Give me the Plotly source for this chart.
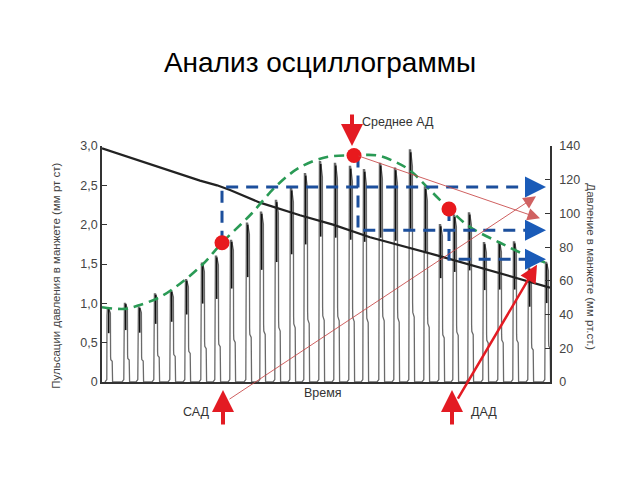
import plotly.graph_objects as go

# ---------------- data ----------------
pulse_x = [7, 24, 38, 54, 70, 85, 101, 115, 130, 146, 160, 175, 190, 204, 219,
           234, 249, 263, 279, 294, 309, 324, 339, 353, 368, 383, 398, 413, 428, 445]
pulse_peak = [0.94, 1.00, 0.95, 1.12, 1.16, 1.30, 1.51, 1.60, 1.80, 2.02, 2.16, 2.31,
              2.46, 2.65, 2.80, 2.78, 2.74, 2.70, 2.78, 2.72, 2.95, 2.48, 2.00, 2.12,
              2.15, 1.77, 1.78, 1.78, 1.45, 1.52]

cuff_x = [0, 45, 98, 115, 128, 158, 198, 231, 268, 335, 388, 448]
cuff_y = [2.97, 2.78, 2.56, 2.50, 2.44, 2.28, 2.12, 2.00, 1.84, 1.61, 1.42, 1.20]

env_x = [0, 23, 38, 58, 78, 101, 120, 148, 175, 198, 225, 252, 275, 293, 308, 328,
         348, 368, 398, 428, 443]
env_y = [0.95, 0.93, 0.98, 1.08, 1.25, 1.50, 1.77, 2.12, 2.50, 2.73, 2.86, 2.88,
         2.88, 2.80, 2.69, 2.44, 2.19, 1.97, 1.77, 1.59, 1.52]

dot_x = [120, 252, 347]          # САД, Среднее АД, ДАД
dot_y = [1.77, 2.88, 2.20]
level_y = [2.48, 1.93, 1.56]     # levels read on the cuff-pressure line
arrow_tip_x = 444

left_ticks = [0, 0.5, 1.0, 1.5, 2.0, 2.5, 3.0]
left_tick_text = ["0", "0,5", "1,0", "1,5", "2,0", "2,5", "3,0"]
right_ticks = [0, 20, 40, 60, 80, 100, 120, 140]

# ---------------- build pulses ----------------
px, py = [], []
for x, p in zip(pulse_x, pulse_peak):
    px += [x - 4, x - 2.2, x - 2, x - 1.6, x - 0.4, x + 1.4, x + 1.6, x + 1.8, x + 3.2, x + 3.4, x + 3.6, x + 5]
    py += [0, 0.03, 0.9 * p, p, p, 0.93 * p, 0.34 * p, 0.30 * p, 0.28 * p, 0.05, 0, 0]
bx, by = [], []
for x, p in zip(pulse_x, pulse_peak):
    bx += [x - 0.3, x - 0.3, None]
    by += [p * 0.99, p * 0.66, None]

fig = go.Figure()
fig.add_trace(go.Scatter(x=px, y=py, mode="lines", line=dict(color="#6a6a6a", width=1.3),
                         hoverinfo="skip", showlegend=False))
fig.add_trace(go.Scatter(x=bx, y=by, mode="lines", line=dict(color="#111111", width=1.6),
                         hoverinfo="skip", showlegend=False))
fig.add_trace(go.Scatter(x=cuff_x, y=cuff_y, mode="lines", line=dict(color="#222222", width=2.2),
                         showlegend=False))
fig.add_trace(go.Scatter(x=env_x, y=env_y, mode="lines", line_shape="spline",
                         line=dict(color="#2a9a55", width=2.6, dash="10px,6px"), showlegend=False))

# blue dashed guide lines
blue = "#1c4f9c"
for dx, dy, ly in zip(dot_x, dot_y, level_y):
    vx = dx + (4 if dx == dot_x[1] else 0)
    fig.add_trace(go.Scatter(x=[vx, vx, arrow_tip_x - 14], y=[dy, ly, ly], mode="lines",
                             line=dict(color=blue, width=3, dash="12px,8px"), showlegend=False))
    fig.add_annotation(x=arrow_tip_x, y=ly, ax=arrow_tip_x - 12, ay=ly, xref="x", yref="y",
                       axref="x", ayref="y", text="", showarrow=True, arrowhead=2,
                       arrowsize=1.4, arrowwidth=3, arrowcolor="#1a5bb8")

fig.add_trace(go.Scatter(x=dot_x, y=dot_y, mode="markers",
                         marker=dict(color="#e8191d", size=15), showlegend=False))

red = "#e31b23"
thin = "rgba(200,70,70,0.85)"
# thin line from mean point
fig.add_annotation(x=438, y=2.08, ax=dot_x[1] + 3, ay=dot_y[1], xref="x", yref="y", axref="x",
                   ayref="y", text="", showarrow=True, arrowhead=2, arrowsize=2.5,
                   arrowwidth=1, arrowcolor=thin)
# thin line from САД
fig.add_annotation(x=434, y=2.36, ax=126, ay=-0.23, xref="x", yref="y", axref="x",
                   ayref="y", text="", showarrow=True, arrowhead=2, arrowsize=2.5,
                   arrowwidth=1, arrowcolor=thin)
# thick line from ДАД
fig.add_annotation(x=435, y=1.49, ax=355, ay=-0.23, xref="x", yref="y", axref="x",
                   ayref="y", text="", showarrow=True, arrowhead=2, arrowsize=1.4,
                   arrowwidth=2.5, arrowcolor=red)
# big vertical arrows
fig.add_annotation(x=250, y=3.0, ax=250, ay=3.42, xref="x", yref="y", axref="x", ayref="y",
                   text="", showarrow=True, arrowhead=2, arrowsize=1.1, arrowwidth=4,
                   arrowcolor=red)
for ax_ in [121, 350]:
    fig.add_annotation(x=ax_, y=-0.034, ax=0, ay=36, xref="x", yref="paper",
                       text="", showarrow=True, arrowhead=2, arrowsize=1.1,
                       arrowwidth=4, arrowcolor=red)

txt = dict(family="Liberation Sans, Arial", size=12.5, color="#333333")
fig.add_annotation(x=258, y=1.102, xref="x", yref="paper", text="Среднее АД", showarrow=False,
                   xanchor="left", yanchor="middle", font=txt)
fig.add_annotation(x=221, y=-0.047, xref="x", yref="paper", text="Время", showarrow=False,
                   yanchor="middle", font=txt)
fig.add_annotation(x=94, y=-0.127, xref="x", yref="paper", text="САД", showarrow=False,
                   yanchor="middle", font=txt)
fig.add_annotation(x=382, y=-0.127, xref="x", yref="paper", text="ДАД", showarrow=False,
                   yanchor="middle", font=txt)

# axis titles
fig.add_annotation(x=(48 - 102) / 448, y=0.45, xref="paper", yref="paper", textangle=-90,
                   text="Пульсации давления в манжете (мм рт ст)", showarrow=False,
                   font=dict(family="Liberation Sans, Arial", size=11.5, color="#444444"))
fig.add_annotation(x=(599 - 102) / 448, y=0.49, xref="paper", yref="paper", textangle=90,
                   text="Давление в манжете (мм рт.ст.)", showarrow=False,
                   font=dict(family="Liberation Sans, Arial", size=11.5, color="#444444"))

# dummy trace for right axis
fig.add_trace(go.Scatter(x=[0], y=[0], yaxis="y2", mode="markers", marker=dict(opacity=0),
                         hoverinfo="skip", showlegend=False))

axfont = dict(family="Liberation Sans, Arial", size=12.5, color="#444444")
fig.update_layout(
    width=640, height=480,
    margin=dict(l=102, r=90, t=146, b=98),
    paper_bgcolor="white", plot_bgcolor="white",
    title=dict(text="Анализ осциллограммы", x=0.5, xanchor="center", y=1 - 62 / 480,
               yanchor="middle", font=dict(family="Liberation Sans, Arial", size=28, color="black")),
    xaxis=dict(range=[0, 448], showticklabels=False, ticks="", showgrid=False, zeroline=False,
               showline=True, linecolor="#333333", linewidth=1.5),
    yaxis=dict(range=[0, 3.0], tickvals=left_ticks, ticktext=left_tick_text, ticks="inside",
               ticklen=5, tickcolor="#333333", showgrid=False, zeroline=False, showline=True,
               linecolor="#333333", linewidth=1.5, tickfont=axfont),
    yaxis2=dict(range=[0, 140], tickvals=right_ticks, overlaying="y", side="right",
                ticks="inside", ticklen=5, tickcolor="#333333", showgrid=False, zeroline=False,
                showline=True, linecolor="#333333", linewidth=1.5, tickfont=axfont,
                ticklabelstandoff=5),
)

fig.write_html("out.html")
